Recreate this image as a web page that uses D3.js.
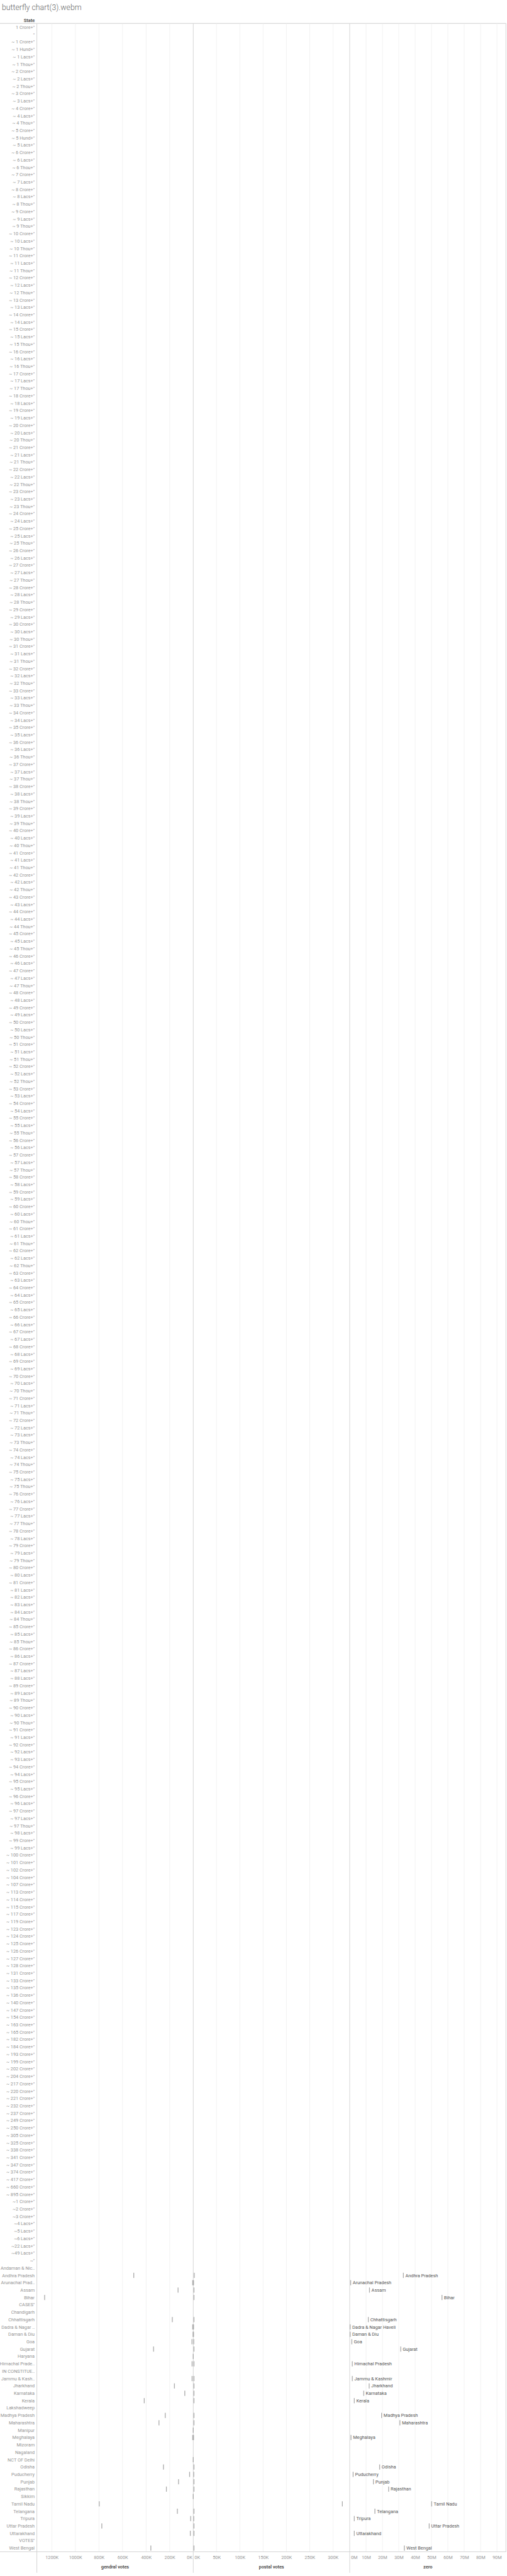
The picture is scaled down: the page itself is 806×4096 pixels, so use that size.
<!DOCTYPE html>
<html><head><meta charset="utf-8">
<script src="https://cdn.jsdelivr.net/npm/d3@7"></script>
<style>
body{margin:0;background:#fff}
svg{display:block}
text{font-family:Roboto,"Noto Sans",sans-serif}
</style>
</head><body><div id="chart"></div>
<script>
// ---------- DATA ----------
const junkLabels = [
'1 Crore+"','"','~ 1 Crore+"','~ 1 Hund+"','~ 1 Lacs+"','~ 1 Thou+"','~ 2 Crore+"','~ 2 Lacs+"','~ 2 Thou+"',
'~ 3 Crore+"','~ 3 Lacs+"','~ 4 Crore+"','~ 4 Lacs+"','~ 4 Thou+"','~ 5 Crore+"','~ 5 Hund+"','~ 5 Lacs+"',
'~ 6 Crore+"','~ 6 Lacs+"','~ 6 Thou+"','~ 7 Crore+"','~ 7 Lacs+"','~ 8 Crore+"','~ 8 Lacs+"','~ 8 Thou+"',
'~ 9 Crore+"','~ 9 Lacs+"','~ 9 Thou+"',
'~ 10 Crore+"','~ 10 Lacs+"','~ 10 Thou+"',
'~ 11 Crore+"','~ 11 Lacs+"','~ 11 Thou+"',
'~ 12 Crore+"','~ 12 Lacs+"','~ 12 Thou+"',
'~ 13 Crore+"','~ 13 Lacs+"',
'~ 14 Crore+"','~ 14 Lacs+"',
'~ 15 Crore+"','~ 15 Lacs+"','~ 15 Thou+"',
'~ 16 Crore+"','~ 16 Lacs+"','~ 16 Thou+"',
'~ 17 Crore+"','~ 17 Lacs+"','~ 17 Thou+"',
'~ 18 Crore+"','~ 18 Lacs+"',
'~ 19 Crore+"','~ 19 Lacs+"',
'~ 20 Crore+"','~ 20 Lacs+"','~ 20 Thou+"',
'~ 21 Crore+"','~ 21 Lacs+"','~ 21 Thou+"',
'~ 22 Crore+"','~ 22 Lacs+"','~ 22 Thou+"',
'~ 23 Crore+"','~ 23 Lacs+"','~ 23 Thou+"',
'~ 24 Crore+"','~ 24 Lacs+"',
'~ 25 Crore+"','~ 25 Lacs+"','~ 25 Thou+"',
'~ 26 Crore+"','~ 26 Lacs+"',
'~ 27 Crore+"','~ 27 Lacs+"','~ 27 Thou+"',
'~ 28 Crore+"','~ 28 Lacs+"','~ 28 Thou+"',
'~ 29 Crore+"','~ 29 Lacs+"',
'~ 30 Crore+"','~ 30 Lacs+"','~ 30 Thou+"',
'~ 31 Crore+"','~ 31 Lacs+"','~ 31 Thou+"',
'~ 32 Crore+"','~ 32 Lacs+"','~ 32 Thou+"',
'~ 33 Crore+"','~ 33 Lacs+"','~ 33 Thou+"',
'~ 34 Crore+"','~ 34 Lacs+"',
'~ 35 Crore+"','~ 35 Lacs+"',
'~ 36 Crore+"','~ 36 Lacs+"','~ 36 Thou+"',
'~ 37 Crore+"','~ 37 Lacs+"','~ 37 Thou+"',
'~ 38 Crore+"','~ 38 Lacs+"','~ 38 Thou+"',
'~ 39 Crore+"','~ 39 Lacs+"','~ 39 Thou+"',
'~ 40 Crore+"','~ 40 Lacs+"','~ 40 Thou+"',
'~ 41 Crore+"','~ 41 Lacs+"','~ 41 Thou+"',
'~ 42 Crore+"','~ 42 Lacs+"','~ 42 Thou+"',
'~ 43 Crore+"','~ 43 Lacs+"',
'~ 44 Crore+"','~ 44 Lacs+"','~ 44 Thou+"',
'~ 45 Crore+"','~ 45 Lacs+"','~ 45 Thou+"',
'~ 46 Crore+"','~ 46 Lacs+"',
'~ 47 Crore+"','~ 47 Lacs+"','~ 47 Thou+"',
'~ 48 Crore+"','~ 48 Lacs+"',
'~ 49 Crore+"','~ 49 Lacs+"',
'~ 50 Crore+"','~ 50 Lacs+"','~ 50 Thou+"',
'~ 51 Crore+"','~ 51 Lacs+"','~ 51 Thou+"',
'~ 52 Crore+"','~ 52 Lacs+"','~ 52 Thou+"',
'~ 53 Crore+"','~ 53 Lacs+"',
'~ 54 Crore+"','~ 54 Lacs+"',
'~ 55 Crore+"','~ 55 Lacs+"','~ 55 Thou+"',
'~ 56 Crore+"','~ 56 Lacs+"',
'~ 57 Crore+"','~ 57 Lacs+"','~ 57 Thou+"',
'~ 58 Crore+"','~ 58 Lacs+"',
'~ 59 Crore+"','~ 59 Lacs+"',
'~ 60 Crore+"','~ 60 Lacs+"','~ 60 Thou+"',
'~ 61 Crore+"','~ 61 Lacs+"','~ 61 Thou+"',
'~ 62 Crore+"','~ 62 Lacs+"','~ 62 Thou+"',
'~ 63 Crore+"','~ 63 Lacs+"',
'~ 64 Crore+"','~ 64 Lacs+"',
'~ 65 Crore+"','~ 65 Lacs+"',
'~ 66 Crore+"','~ 66 Lacs+"',
'~ 67 Crore+"','~ 67 Lacs+"',
'~ 68 Crore+"','~ 68 Lacs+"',
'~ 69 Crore+"','~ 69 Lacs+"',
'~ 70 Crore+"','~ 70 Lacs+"','~ 70 Thou+"',
'~ 71 Crore+"','~ 71 Lacs+"','~ 71 Thou+"',
'~ 72 Crore+"','~ 72 Lacs+"',
'~ 73 Lacs+"','~ 73 Thou+"',
'~ 74 Crore+"','~ 74 Lacs+"','~ 74 Thou+"',
'~ 75 Crore+"','~ 75 Lacs+"','~ 75 Thou+"',
'~ 76 Crore+"','~ 76 Lacs+"',
'~ 77 Crore+"','~ 77 Lacs+"','~ 77 Thou+"',
'~ 78 Crore+"','~ 78 Lacs+"',
'~ 79 Crore+"','~ 79 Lacs+"','~ 79 Thou+"',
'~ 80 Crore+"','~ 80 Lacs+"',
'~ 81 Crore+"','~ 81 Lacs+"',
'~ 82 Lacs+"','~ 83 Lacs+"','~ 84 Lacs+"','~ 84 Thou+"',
'~ 85 Crore+"','~ 85 Lacs+"','~ 85 Thou+"',
'~ 86 Crore+"','~ 86 Lacs+"',
'~ 87 Crore+"','~ 87 Lacs+"',
'~ 88 Lacs+"',
'~ 89 Crore+"','~ 89 Lacs+"','~ 89 Thou+"',
'~ 90 Crore+"','~ 90 Lacs+"','~ 90 Thou+"',
'~ 91 Crore+"','~ 91 Lacs+"',
'~ 92 Crore+"','~ 92 Lacs+"',
'~ 93 Lacs+"',
'~ 94 Crore+"','~ 94 Lacs+"',
'~ 95 Crore+"','~ 95 Lacs+"',
'~ 96 Crore+"','~ 96 Lacs+"',
'~ 97 Crore+"','~ 97 Lacs+"','~ 97 Thou+"',
'~ 98 Lacs+"',
'~ 99 Crore+"','~ 99 Lacs+"',
'~ 100 Crore+"','~ 101 Crore+"','~ 102 Crore+"','~ 104 Crore+"','~ 107 Crore+"','~ 113 Crore+"',
'~ 114 Crore+"','~ 115 Crore+"','~ 117 Crore+"','~ 119 Crore+"','~ 123 Crore+"','~ 124 Crore+"',
'~ 125 Crore+"','~ 126 Crore+"','~ 127 Crore+"','~ 128 Crore+"','~ 131 Crore+"','~ 133 Crore+"',
'~ 135 Crore+"','~ 136 Crore+"','~ 140 Crore+"','~ 147 Crore+"','~ 154 Crore+"','~ 163 Crore+"',
'~ 165 Crore+"','~ 182 Crore+"','~ 184 Crore+"','~ 193 Crore+"','~ 199 Crore+"','~ 202 Crore+"',
'~ 204 Crore+"','~ 217 Crore+"','~ 220 Crore+"','~ 221 Crore+"','~ 232 Crore+"','~ 237 Crore+"',
'~ 249 Crore+"','~ 250 Crore+"','~ 305 Crore+"','~ 325 Crore+"','~ 338 Crore+"','~ 341 Crore+"',
'~ 347 Crore+"','~ 374 Crore+"','~ 417 Crore+"','~ 660 Crore+"','~ 895 Crore+"',
'~1 Crore+"','~2 Crore+"','~3 Crore+"','~4 Lacs+"','~5 Lacs+"','~6 Lacs+"','~22 Lacs+"','~49 Lacs+"','~"'
];

const states = [
'Andaman & Nicobar Islands','Andhra Pradesh','Arunachal Pradesh','Assam','Bihar','CASES"','Chandigarh',
'Chhattisgarh','Dadra & Nagar Haveli','Daman & Diu','Goa','Gujarat','Haryana','Himachal Pradesh',
'IN CONSTITUENCY','Jammu & Kashmir','Jharkhand','Karnataka','Kerala','Lakshadweep','Madhya Pradesh',
'Maharashtra','Manipur','Meghalaya','Mizoram','Nagaland','NCT OF Delhi','Odisha','Puducherry','Punjab',
'Rajasthan','Sikkim','Tamil Nadu','Telangana','Tripura','Uttar Pradesh','Uttarakhand','VOTES"','West Bengal'
];
const stateAxisLabels = {
'Andaman & Nicobar Islands':'Andaman & Nic..','Arunachal Pradesh':'Arunachal Prad..',
'Dadra & Nagar Haveli':'Dadra & Nagar ..','Himachal Pradesh':'Himachal Prade..',
'IN CONSTITUENCY':'IN CONSTITUE..','Jammu & Kashmir':'Jammu & Kash..'
};

// gendral votes (thousands), postal votes (thousands), zero (millions) — aligned with states
const gendralVotes = [null,505,5,129,1261,null,null,178,5,2,11,337,0.5,10,null,10,160,72,416,null,238,
  291,0.5,5,null,null,0.5,253,31,125,228,0.5,798,135,22,776,25,null,360];
const postalVotes  = [null,2,0.6,1.5,1.5,null,null,1.5,0.6,0.6,1,1.5,null,1.5,null,1.5,1.5,1.5,1.5,null,1.5,
  1.5,null,0.6,null,null,null,1.5,1,1.5,1.5,null,320,1.5,1,1.5,1.5,null,1.5];
const zeroValues   = [null,32.8,0.6,12.1,56.4,null,null,11.4,0.3,0.3,1.3,31.2,null,1.6,null,1.6,11.9,8.6,2.8,null,19.5,
  30.7,null,0.8,null,null,null,18.3,2.1,14.5,23.8,null,50.1,15.4,2.8,48.6,2.8,null,33.4];

const gendralTicks = [0,200,400,600,800,1000,1200];
const postalTicks = [0,50,100,150,200,250,300];
const zeroTicks = [0,10,20,30,40,50,60,70,80,90];

// ---------- LAYOUT (reference units, scaled by S) ----------
const S = 0.586;
const W = 806, H = 4096;
const L = 100, R = 1373, TOP = 64, ROW = 20, REFH = 6981;
const rows = junkLabels.concat(states);
const BOTTOM = TOP + ROW * rows.length;
const paneW = (R - L) / 3;

const xG = d3.scaleLinear().domain([0, 1327]).range([L + paneW, L]);
const xP = d3.scaleLinear().domain([0, 335.8]).range([L + paneW, L + 2 * paneW]);
const xZ = d3.scaleLinear().domain([0, 95.6]).range([L + 2 * paneW, R]);
const y = d3.scaleBand().domain(rows).range([TOP, BOTTOM]);

const svg = d3.select('#chart').append('svg').attr('width', W).attr('height', H);
const g = svg.append('g').attr('transform', `scale(${S})`);

// title
g.append('text').attr('x', 5).attr('y', 28).text('butterfly chart(3).webm')
  .attr('font-size', 21).attr('font-weight', 300).attr('fill', '#666');

// header
g.append('text').attr('x', 94).attr('y', 55).attr('dy', '0.35em').attr('text-anchor', 'end')
  .attr('font-size', 12.5).attr('font-weight', 600).attr('fill', '#444').text('State');
g.append('line').attr('x1', 0).attr('x2', R).attr('y1', TOP - 0.5).attr('y2', TOP - 0.5)
  .attr('stroke', '#c8c8c8').attr('stroke-width', 1.5);

// gridlines
const grid = g.append('g').attr('stroke', '#ededed').attr('stroke-width', 1.2);
[[xG, gendralTicks], [xP, postalTicks], [xZ, zeroTicks]].forEach(([sc, ticks]) => {
  grid.selectAll(null).data(ticks.filter(t => t !== 0)).enter().append('line')
    .attr('x1', d => sc(d)).attr('x2', d => sc(d)).attr('y1', TOP).attr('y2', BOTTOM);
});

// pane borders
const border = g.append('g').attr('stroke', '#cfcfcf').attr('stroke-width', 1.5);
[L, L + paneW, L + 2 * paneW].forEach(x => {
  border.append('line').attr('x1', x).attr('x2', x).attr('y1', TOP).attr('y2', REFH);
});
border.append('line').attr('x1', R - 0.5).attr('x2', R - 0.5).attr('y1', TOP).attr('y2', BOTTOM);
border.append('line').attr('x1', 0).attr('x2', R).attr('y1', BOTTOM).attr('y2', BOTTOM);

// row labels
g.append('g').selectAll('text').data(rows).enter().append('text')
  .attr('x', 94).attr('y', d => y(d) + ROW / 2).attr('dy', '0.35em').attr('text-anchor', 'end')
  .attr('font-size', 12.5).attr('fill', '#959595')
  .text(d => stateAxisLabels[d] || d);

// marks
const recs = states.map((s, i) => ({ s, gv: gendralVotes[i], pv: postalVotes[i], zv: zeroValues[i] }));
const MH = 14, MW = 2.2, MC = '#a9a9a9';
const marks = g.append('g').attr('fill', MC);
marks.selectAll('.mg').data(recs.filter(d => d.gv != null)).enter().append('rect')
  .attr('x', d => xG(d.gv) - MW / 2).attr('y', d => y(d.s) + (ROW - MH) / 2)
  .attr('width', MW).attr('height', MH);
marks.selectAll('.mp').data(recs.filter(d => d.pv != null)).enter().append('rect')
  .attr('x', d => xP(d.pv) - MW / 2).attr('y', d => y(d.s) + (ROW - MH) / 2)
  .attr('width', MW).attr('height', MH);
marks.selectAll('.mz').data(recs.filter(d => d.zv != null)).enter().append('rect')
  .attr('x', d => xZ(d.zv) - MW / 2).attr('y', d => y(d.s) + (ROW - MH) / 2)
  .attr('width', MW).attr('height', MH);
g.append('g').selectAll('text').data(recs.filter(d => d.zv != null)).enter().append('text')
  .attr('x', d => xZ(d.zv) + 5.5).attr('y', d => y(d.s) + ROW / 2).attr('dy', '0.35em')
  .attr('font-size', 12.5).attr('fill', '#555').text(d => d.s);

// axes
function drawAxis(sc, ticks, fmt, edge) {
  const ax = g.append('g').attr('transform', `translate(0,${BOTTOM})`)
    .call(d3.axisBottom(sc).tickValues(ticks).tickFormat(fmt).tickSize(0).tickPadding(11));
  ax.select('.domain').remove();
  ax.selectAll('text').attr('font-size', 12.5).attr('fill', '#999').attr('font-family', null);
  ax.selectAll('.tick').filter(d => d === 0).select('text')
    .attr('text-anchor', edge === 'end' ? 'end' : 'start').attr('x', edge === 'end' ? -3 : 3);
}
drawAxis(xG, gendralTicks, d => d + 'K', 'end');
drawAxis(xP, postalTicks, d => d + 'K', 'start');
drawAxis(xZ, zeroTicks, d => d + 'M', 'start');

const titles = [['gendral votes', L + paneW / 2], ['postal votes', L + 1.5 * paneW], ['zero', L + 2.5 * paneW]];
g.append('g').selectAll('text').data(titles).enter().append('text')
  .attr('x', d => d[1]).attr('y', 6965).attr('dy', '0.35em').attr('text-anchor', 'middle')
  .attr('font-size', 12.5).attr('font-weight', 600).attr('fill', '#444').text(d => d[0]);
</script>
</body></html>
